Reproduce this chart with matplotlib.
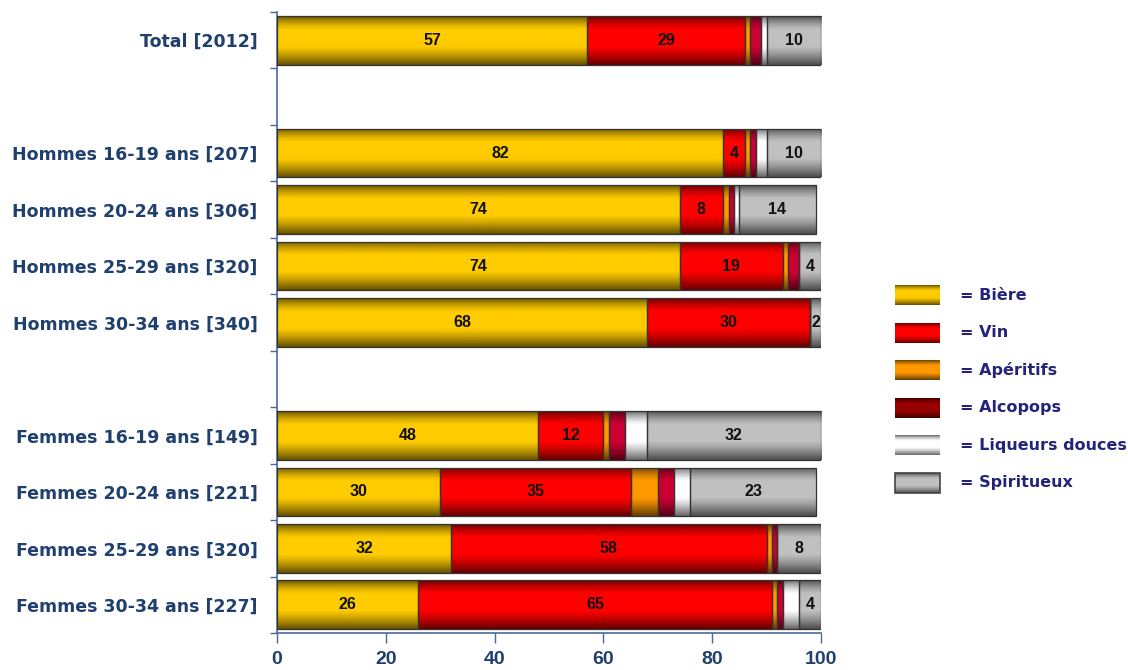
import numpy as np
import matplotlib.pyplot as plt
from matplotlib.colors import to_rgb

# Parts de chaque boisson (%) par groupe
categories = [
    "Total [2012]",
    "Hommes 16-19 ans [207]",
    "Hommes 20-24 ans [306]",
    "Hommes 25-29 ans [320]",
    "Hommes 30-34 ans [340]",
    "Femmes 16-19 ans [149]",
    "Femmes 20-24 ans [221]",
    "Femmes 25-29 ans [320]",
    "Femmes 30-34 ans [227]",
]
group_sizes = [1, 4, 4]

biere = [57, 82, 74, 74, 68, 48, 30, 32, 26]
vin = [29, 4, 8, 19, 30, 12, 35, 58, 65]
aperitifs = [1, 1, 1, 1, 0, 1, 5, 1, 1]
alcopops = [2, 1, 1, 2, 0, 3, 3, 1, 1]
liqueurs = [1, 2, 1, 0, 0, 4, 3, 0, 3]
spiritueux = [10, 10, 14, 4, 2, 32, 23, 8, 4]

series_names = ["Bière", "Vin", "Apéritifs", "Alcopops", "Liqueurs douces", "Spiritueux"]
series_values = [biere, vin, aperitifs, alcopops, liqueurs, spiritueux]
series_colors = ["#FFCC00", "#FF0000", "#FF9900", "#CC0033", "#FFFFFF", "#C0C0C0"]
legend_colors = ["#FFCC00", "#FF0000", "#FF9900", "#990000", "#FFFFFF", "#C0C0C0"]
labelled = {"Bière", "Vin", "Spiritueux"}

LABEL_C = "#1F3F6F"
LEGEND_C = "#23237A"
AXIS_C = "#4A6A9A"
FONT = ["Liberation Sans", "DejaVu Sans"]

# y positions: one empty row between groups
ypos = []
row = 0
for g, n in enumerate(group_sizes):
    if g > 0:
        row += 1
    for _ in range(n):
        ypos.append(row)
        row += 1
n_rows = row
ypos = np.array(ypos)


def tube_gradient(color, n=64):
    # dark at top and bottom, bright in the middle (bottom a bit darker)
    r, g, b = to_rgb(color)
    t = np.linspace(0, 1, n)
    f = 0.4 + 0.6 * np.clip(np.sin(np.pi * t ** 0.85) * 1.15, 0, 1)
    img = np.stack([r * f, g * f, b * f], axis=-1)
    return img[:, None, :]


def shade_patch(ax, patch, color):
    x, y = patch.get_x(), patch.get_y()
    w, h = patch.get_width(), patch.get_height()
    if w <= 0:
        return
    im = ax.imshow(tube_gradient(color), extent=[x, x + w, y + h, y],
                   aspect="auto", interpolation="bilinear", zorder=2)
    im.set_clip_path(patch)


fig = plt.figure(figsize=(11.28, 6.70), dpi=100)
ax = fig.add_axes([277 / 1128, 37 / 670, 544 / 1128, 621 / 670])

left = np.zeros(len(categories))
for name, vals, col in zip(series_names, series_values, series_colors):
    vals = np.array(vals, dtype=float)
    bars = ax.barh(ypos, vals, left=left, height=0.86, facecolor="none",
                   edgecolor="#333333", linewidth=0.9, zorder=3)
    for p in bars:
        shade_patch(ax, p, col)
    if name in labelled:
        ax.bar_label(bars, labels=[f"{v:g}" if v > 0 else "" for v in vals],
                     label_type="center", fontsize=11.5, fontweight="bold",
                     color="#111111", family=FONT, zorder=4)
    left += vals

ax.set_xlim(0, 100)
ax.set_ylim(n_rows - 0.5, -0.5)

ax.set_xticks([0, 20, 40, 60, 80, 100])
ax.tick_params(axis="x", direction="out", length=7, width=1, color=AXIS_C,
               pad=6, labelsize=14, labelcolor=LABEL_C)
for t in ax.get_xticklabels():
    t.set_fontweight("bold")
    t.set_family(FONT)

ax.set_yticks(ypos)
ax.set_yticklabels(categories)
ax.set_yticks(np.arange(n_rows + 1) - 0.5, minor=True)
ax.tick_params(axis="y", which="major", length=0, pad=14, labelsize=12.5,
               labelcolor=LABEL_C)
ax.tick_params(axis="y", which="minor", direction="out", length=5, width=1,
               color=AXIS_C)
for t in ax.get_yticklabels():
    t.set_fontweight("bold")
    t.set_family(["DejaVu Sans"])

for s in ("top", "right"):
    ax.spines[s].set_visible(False)
for s in ("left", "bottom"):
    ax.spines[s].set_color(AXIS_C)
    ax.spines[s].set_linewidth(1.2)

# legend on the right
lax = fig.add_axes([880 / 1128, 170 / 670, 248 / 1128, 230 / 670])
lax.axis("off")
for i, (name, col) in enumerate(zip(series_names, legend_colors)):
    yc = 25 + i * 37.6
    rect = plt.Rectangle((15, yc - 10), 45, 20, facecolor="none",
                         edgecolor="#444444" if name == "Spiritueux" else "none",
                         linewidth=1.2, zorder=3)
    lax.add_patch(rect)
    im = lax.imshow(tube_gradient(col), extent=[15, 60, yc + 10, yc - 10],
                    aspect="auto", interpolation="bilinear", zorder=2)
    im.set_clip_path(rect)
    lax.text(80, yc, f"= {name}", ha="left", va="center", fontsize=11.5,
             fontweight="bold", color=LEGEND_C, family=["DejaVu Sans"])
lax.set_xlim(0, 248)
lax.set_ylim(230, 0)

fig.savefig("out.png", dpi=100, facecolor="white")
